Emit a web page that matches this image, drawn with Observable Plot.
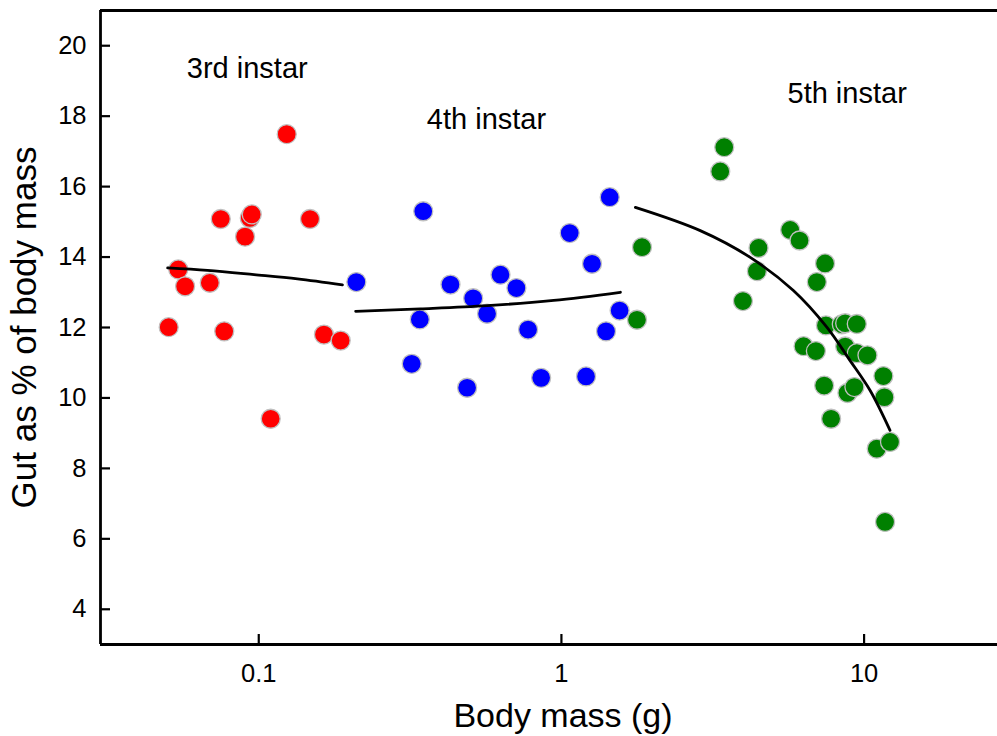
<!DOCTYPE html>
<html>
<head>
<meta charset="utf-8">
<script src="https://cdn.jsdelivr.net/npm/d3@7"></script>
<script src="https://cdn.jsdelivr.net/npm/@observablehq/plot@0.6"></script>
<style>
  html, body { margin: 0; padding: 0; background: #fff; overflow: hidden; }
  #chart svg { display: block; }
</style>
</head>
<body>
<div id="chart"></div>
<script>
// ---- Data ----
const mass3 = [0.0504, 0.0542, 0.0571, 0.0689, 0.0749, 0.0769, 0.0901, 0.0934, 0.0948, 0.1095, 0.1237, 0.1477, 0.1642, 0.1865];
const gut3  = [12.01, 13.65, 13.17, 13.27, 15.08, 11.89, 14.58, 15.11, 15.21, 9.41, 17.49, 15.08, 11.80, 11.63];

const mass4 = [0.2101, 0.3202, 0.3405, 0.3495, 0.4300, 0.4880, 0.5110, 0.5680, 0.6290, 0.7100, 0.7760, 0.8570, 1.065, 1.206, 1.262, 1.404, 1.444, 1.557];
const gut4  = [13.29, 10.97, 12.23, 15.30, 13.22, 10.29, 12.83, 12.39, 13.50, 13.12, 11.94, 10.57, 14.68, 10.61, 13.81, 11.89, 15.70, 12.48];

const mass5 = [1.777, 1.846, 3.348, 3.451, 3.978, 4.424, 4.479, 5.70, 6.12, 6.31, 6.93, 6.98, 7.38, 7.43, 7.48, 7.78, 8.44, 8.66, 8.66, 8.81, 9.29, 9.46, 9.46, 10.26, 11.01, 11.58, 11.67, 11.73, 12.18];
const gut5  = [12.22, 14.28, 16.43, 17.12, 12.75, 13.60, 14.26, 14.77, 14.47, 11.47, 11.33, 13.29, 10.35, 13.82, 12.06, 9.41, 12.09, 12.12, 11.46, 10.14, 10.31, 12.10, 11.27, 11.21, 8.56, 10.62, 10.02, 6.48, 8.75];

// fitted curves
const fit3x = [0.050, 0.0677, 0.0965, 0.1342, 0.189];
const fit3y = [13.69, 13.62, 13.50, 13.38, 13.21];
const fit4x = [0.209, 0.3424, 0.568, 0.943, 1.566];
const fit4y = [12.46, 12.53, 12.62, 12.77, 13.00];
const fit5x = [1.755, 2.875, 4.205, 5.84, 7.53, 8.99, 10.47, 12.18];
const fit5y = [15.41, 14.75, 13.99, 13.05, 12.01, 11.06, 10.21, 9.08];

const instarLabels = ["3rd instar", "4th instar", "5th instar"];
const instarLabelX = [0.0916, 0.5655, 8.79];
const instarLabelY = [19.36, 17.89, 18.65];
const instarColors = ["#ff0000", "#0000ff", "#008000"];

const xTicks = [0.1, 1, 10];
const xTickLabels = ["0.1", "1", "10"];
const yTicks = [4, 6, 8, 10, 12, 14, 16, 18, 20];

// ---- Build tables ----
const pts = [];
[[mass3, gut3], [mass4, gut4], [mass5, gut5]].forEach(([m, g], k) => {
  m.forEach((v, i) => pts.push({mass: v, gut: g[i], instar: instarLabels[k]}));
});
const fits = [];
[[fit3x, fit3y], [fit4x, fit4y], [fit5x, fit5y]].forEach(([m, g], k) => {
  m.forEach((v, i) => fits.push({mass: v, gut: g[i], instar: instarLabels[k]}));
});
const annos = instarLabels.map((t, i) => ({t, x: instarLabelX[i], y: instarLabelY[i]}));
const xTickData = xTicks.map((v, i) => ({v, label: xTickLabels[i]}));

const font = "'Liberation Sans', Arial, Helvetica, sans-serif";
const tickFont = 25.5;

const chart = Plot.plot({
  width: 997,
  height: 736,
  marginLeft: 100,
  marginRight: 0,
  marginTop: 10,
  marginBottom: 92,
  style: {fontFamily: font, color: "#000", background: "#fff", overflow: "hidden"},
  x: {type: "log", domain: [0.03, 30], range: [100, 1008]},
  y: {domain: [3, 21]},
  color: {domain: instarLabels, range: instarColors},
  marks: [
    // frame lines
    Plot.ruleY([21], {stroke: "#000", strokeWidth: 2.8}),
    Plot.ruleY([3], {stroke: "#000", strokeWidth: 2.8}),
    Plot.ruleX([0.03], {stroke: "#000", strokeWidth: 2.8}),
    // inward tick marks
    Plot.axisX(xTicks, {anchor: "bottom", tickSize: -10, strokeWidth: 2.2, tickFormat: () => "", label: null}),
    Plot.axisY(yTicks, {anchor: "left", tickSize: -10, strokeWidth: 2.2, tickFormat: () => "", label: null}),
    // tick labels
    Plot.text(xTickData, {x: "v", text: "label", frameAnchor: "bottom", dy: 19, lineAnchor: "top", textAnchor: "middle", fontSize: tickFont, fill: "#000"}),
    Plot.text(yTicks, {y: d => d, text: d => String(d), frameAnchor: "left", dx: -14, textAnchor: "end", lineAnchor: "middle", fontSize: tickFont, fill: "#000"}),
    // points
    Plot.dot(pts, {x: "mass", y: "gut", fill: "instar", r: 9.5, stroke: "#c0c0c0", strokeWidth: 1.3}),
    // fitted curves
    Plot.line(fits, {x: "mass", y: "gut", z: "instar", stroke: "#000", strokeWidth: 2.8, curve: "catmull-rom"}),
    // instar labels
    Plot.text(annos, {x: "x", y: "y", text: "t", fontSize: 29, fill: "#000", lineAnchor: "middle"}),
    // axis titles
    Plot.text(["Body mass (g)"], {frameAnchor: "bottom", dx: 14, dy: 82, lineAnchor: "bottom", textAnchor: "middle", fontSize: 34, fill: "#000"}),
    Plot.text(["Gut as % of body mass"], {frameAnchor: "left", dx: -76, rotate: -90, lineAnchor: "middle", textAnchor: "middle", fontSize: 35, fill: "#000"})
  ]
});
document.getElementById("chart").appendChild(chart);
</script>
</body>
</html>
